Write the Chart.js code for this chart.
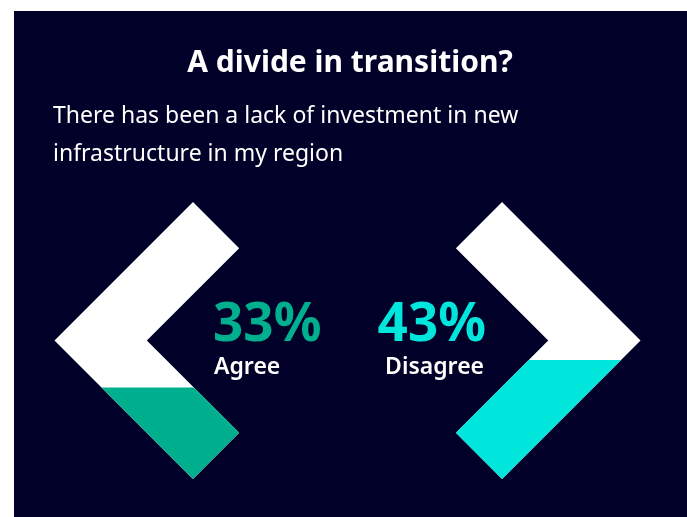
<!DOCTYPE html>
<html>
<head>
<meta charset="utf-8">
<script src="https://cdn.jsdelivr.net/npm/chart.js@4.4.1/dist/chart.umd.min.js"></script>
<style>
  html, body { margin: 0; padding: 0; background: #fff; }
  #wrap { position: absolute; left: 14px; top: 11px; width: 673px; height: 506px; }
</style>
</head>
<body>
<div id="wrap"><canvas id="chart"></canvas></div>
<script>
const chartTitle = 'A divide in transition?';
const question = ['There has been a lack of investment in new', 'infrastructure in my region'];
const categories = ['Agree', 'Disagree'];
const shares = [33, 43];
const fillColors = ['#00af8e', '#00e6dc'];

const BG = '#000028';
const FONT = "'Noto Sans', sans-serif";

// white chevrons, filled from the bottom up to the bar's value
const chevrons = {
  id: 'chevrons',
  beforeDraw(chart){
    const ctx = chart.ctx;
    ctx.save();
    ctx.fillStyle = BG;
    ctx.fillRect(0, 0, chart.width, chart.height);
    ctx.restore();
  },
  afterDatasetsDraw(chart){
    const {ctx, chartArea, scales} = chart;
    const y = scales.y;
    const top = y.getPixelForValue(100), bottom = y.getPixelForValue(0);
    const h = (bottom - top) / 2, k = h / 3, mid = top + h;
    chart.getDatasetMeta(0).data.forEach((bar, i) => {
      const d = i === 0 ? -1 : 1;
      const ax = bar.x;
      const path = () => {
        ctx.beginPath();
        ctx.moveTo(ax + d*h, mid);
        ctx.lineTo(ax, top);
        ctx.lineTo(ax - d*k, top + k);
        ctx.lineTo(ax + d*(h - 2*k), mid);
        ctx.lineTo(ax - d*k, bottom - k);
        ctx.lineTo(ax, bottom);
        ctx.closePath();
      };
      ctx.save();
      path();
      ctx.fillStyle = '#fff';
      ctx.fill();
      ctx.beginPath();
      ctx.rect(chartArea.left - 60, bar.y, chartArea.width + 120, bar.base - bar.y);
      ctx.clip();
      path();
      ctx.fillStyle = fillColors[i];
      ctx.fill();
      ctx.restore();

      // value + label in the notch
      const tx = i === 0 ? ax + 20 : ax - 16;
      ctx.save();
      ctx.textAlign = i === 0 ? 'left' : 'right';
      ctx.textBaseline = 'alphabetic';
      ctx.fillStyle = fillColors[i];
      ctx.font = 'bold 53px ' + FONT;
      ctx.fillText(shares[i] + '%', tx, mid);
      ctx.fillStyle = '#fff';
      ctx.font = '600 23px ' + FONT;
      ctx.fillText(categories[i], tx + (i === 0 ? 1 : -2), mid + 33);
      ctx.restore();
    });
  }
};

new Chart(document.getElementById('chart'), {
  type: 'bar',
  data: {
    datasets: [{
      label: 'Share',
      data: categories.map((c, i) => ({x: i, y: shares[i]})),
      backgroundColor: 'rgba(0,0,0,0)',
      borderWidth: 0
    }]
  },
  options: {
    responsive: true,
    maintainAspectRatio: false,
    animation: false,
    events: [],
    layout: { padding: { left: 39, right: 40, top: 0, bottom: 38 } },
    scales: {
      x: { type: 'linear', display: false, offset: false, min: -0.453, max: 1.469 },
      y: { display: false, min: 0, max: 100 }
    },
    plugins: {
      legend: { display: false },
      tooltip: { enabled: false },
      title: {
        display: true, text: chartTitle, color: '#fff',
        font: { family: FONT, size: 30, weight: 'bold', lineHeight: 1.2 },
        padding: { top: 34.5, bottom: 0 }
      },
      subtitle: {
        display: true, text: question, align: 'start', color: '#fff',
        font: { family: FONT, size: 23, weight: 'normal', lineHeight: '38px' },
        padding: { top: 15.5, bottom: 29 }
      }
    }
  },
  plugins: [chevrons]
});
</script>
</body>
</html>
